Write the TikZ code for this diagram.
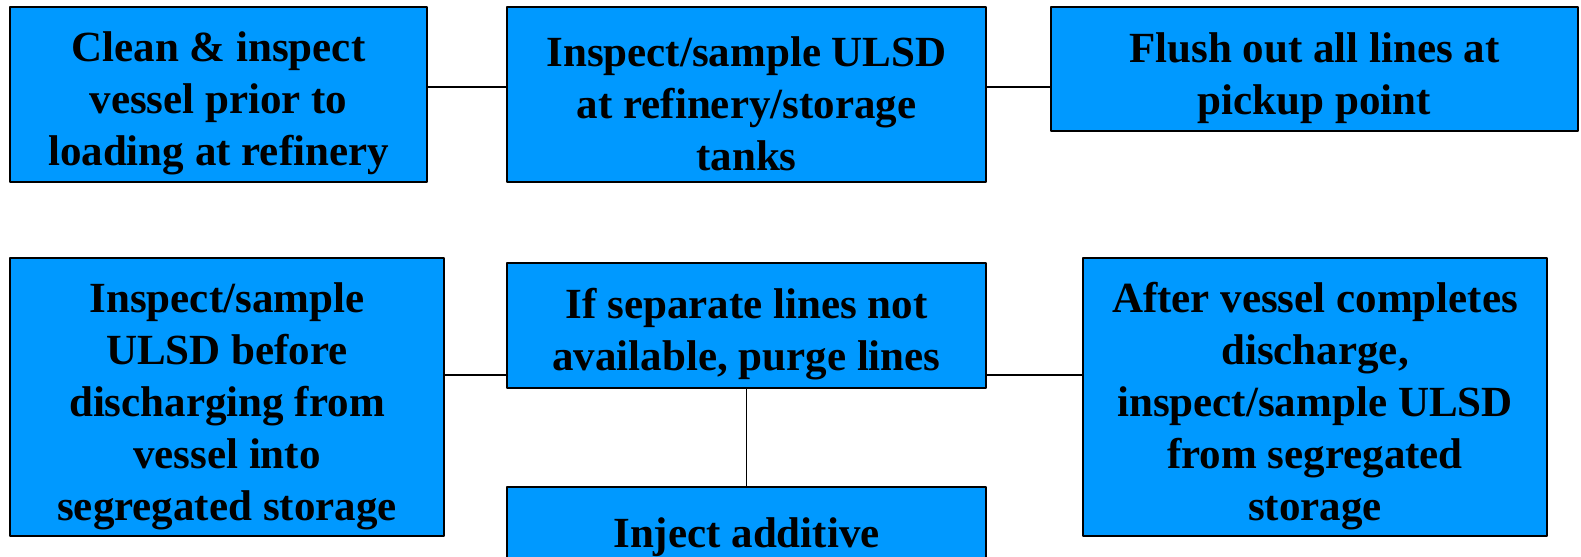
\documentclass[tikz,border=0pt]{standalone}
\usepackage{fontspec}
\newfontfamily\boxfont{LiberationSerif-Bold.ttf}
\usepackage{tikz}
\usetikzlibrary{positioning}
\definecolor{boxblue}{RGB}{0,153,255}
\newcommand\toprule{\rule{0pt}{24pt}}

\begin{document}
\begin{tikzpicture}[line cap=round,line join=round,x=0.5pt,y=-0.5pt,
  stepbox/.style={draw=black,fill=boxblue,line width=0.65pt,align=center,inner sep=0pt,
    font=\boxfont\fontsize{21.5}{26}\selectfont},
  link/.style={draw=black,line width=0.6pt}]
\useasboundingbox (0,0) rectangle (1581,557);
% top row
\node[stepbox,minimum width=417*0.5pt,minimum height=175*0.5pt] (clean) at (218.5,94.5)
  {\toprule Clean \& inspect\\vessel prior to\\loading at refinery};
\node[stepbox,minimum width=479*0.5pt,minimum height=175*0.5pt] (inspref) at (746.5,94.5)
  {\toprule Inspect/sample ULSD\\at refinery/storage\\tanks};
\node[stepbox,minimum width=527*0.5pt,minimum height=124*0.5pt] (flush) at (1314.5,69)
  {\toprule Flush out all lines at\\pickup point};
% bottom row
\node[stepbox,minimum width=434*0.5pt,minimum height=278*0.5pt] (inspdis) at (227,397)
  {\toprule Inspect/sample\\ULSD before\\discharging from\\vessel into\\segregated storage};
\node[stepbox,minimum width=479*0.5pt,minimum height=125*0.5pt] (purge) at (746.5,325.5)
  {\toprule If separate lines not\\available, purge lines};
\node[stepbox,minimum width=464*0.5pt,minimum height=278*0.5pt] (after) at (1315,397)
  {\toprule After vessel completes\\discharge,\\inspect/sample ULSD\\from segregated\\storage};
\node[stepbox,minimum width=479*0.5pt,minimum height=125*0.5pt] (inject) at (746.5,549.5)
  {\toprule Inject additive\\\mbox{}};
% connectors
\draw[link] ([yshift=3.75pt]clean.east) -- ([yshift=3.75pt]clean.east -| inspref.west);
\draw[link] ([yshift=3.75pt]inspref.east) -- ([yshift=3.75pt]inspref.east -| flush.west);
\draw[link] ([yshift=11pt]inspdis.east) -- ([yshift=11pt]inspdis.east -| purge.west);
\draw[link] ([yshift=11pt]after.west) -- ([yshift=11pt]after.west -| purge.east);
\draw[link] (purge.south) -- (inject.north);
\end{tikzpicture}
\end{document}
